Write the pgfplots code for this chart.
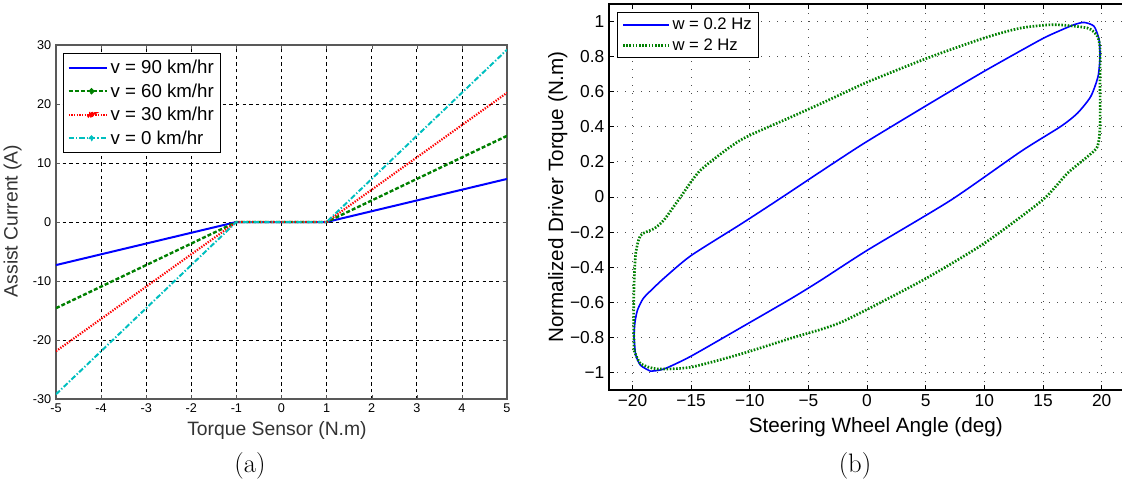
\documentclass[border=0pt]{standalone}
\usepackage{pgfplots}
\pgfplotsset{compat=1.18}
\usepackage{fontspec}
\newfontfamily\arial{Liberation Sans}
\definecolor{mgreen}{rgb}{0,0.5,0}
\definecolor{mcyan}{rgb}{0,0.75,0.75}
\definecolor{mblue}{rgb}{0,0,1}
\begin{document}
\begin{tikzpicture}
\useasboundingbox (0,0) rectangle (841.5pt,370.5pt);
% ---------------- panel (a)
\begin{axis}[
  at={(42pt,71.25pt)}, anchor=south west, scale only axis,
  width=338.25pt, height=265.5pt,
  xmin=-5, xmax=5, ymin=-30, ymax=30,
  xtick={-5,-4,-3,-2,-1,0,1,2,3,4,5}, ytick={-30,-20,-10,0,10,20,30},
  grid=major, major grid style={black, dash pattern=on 2.5pt off 2.5pt, line width=0.5pt},
  axis line style={black!65, line width=0.8pt},
  tick align=inside, major tick length=3pt, tick style={black!65},
  ticklabel style={font=\arial\fontsize{9.5}{10}\selectfont},
  /pgf/number format/assume math mode=true,
  xlabel={Torque Sensor (N.m)}, ylabel={Assist Current (A)},
  xlabel style={font=\arial\fontsize{14.5}{16}\selectfont, black!80, at={(axis description cs:0.49,-0.1045)}, anchor=base, inner sep=0pt},
  ylabel style={font=\arial\fontsize{14.5}{16}\selectfont, black!80, at={(axis description cs:-0.085,0.503)}, anchor=base, inner sep=0pt},
  legend style={at={(0.0155,0.978)}, anchor=north west, font=\arial\fontsize{14}{16}\selectfont, draw=black, line width=0.8pt, row sep=2pt, inner xsep=3pt, inner ysep=3pt},
  legend cell align=left,
]
\addplot[mblue, line width=1.5pt, legend image code/.code={\draw[mblue, line width=1.5pt] (0cm,0cm) -- (1cm,0cm);}] coordinates {(-5,-7.3) (-1,0) (1,0) (5,7.3)};
\addlegendentry{v = 90 km/hr}
\addplot[mgreen, line width=1.8pt, dash pattern=on 3pt off 1.5pt, legend image code/.code={\draw[mgreen, line width=1.8pt, dash pattern=on 3pt off 1.5pt] (0cm,0cm) -- (1cm,0cm); \fill[mgreen] (0.6cm,0cm) circle (1.3pt);}] coordinates {(-5,-14.6) (-1,0) (1,0) (5,14.6)};
\addlegendentry{v = 60 km/hr}
\addplot[red, line width=1.6pt, dash pattern=on 1pt off 1pt, legend image code/.code={\draw[red, line width=1.6pt, dash pattern=on 1pt off 1pt] (0cm,0cm) -- (1cm,0cm); \fill[red] (0.5cm,-1.6pt) -- (0.6cm+0.3pt,1.2pt) -- (0.7cm-0.3pt,1.2pt) -- cycle; \fill[red] (0.6cm,-1.8pt) -- (0.6cm-2pt,1.4pt) -- (0.6cm+2pt,1.4pt) -- cycle;}] coordinates {(-5,-21.9) (-1,0) (1,0) (5,21.9)};
\addlegendentry{v = 30 km/hr}
\addplot[mcyan, line width=1.5pt, dash pattern=on 4pt off 1.5pt on 1pt off 1.5pt, legend image code/.code={\draw[mcyan, line width=1.5pt, dash pattern=on 4pt off 1.5pt on 1pt off 1.5pt] (0cm,0cm) -- (1cm,0cm); \fill[mcyan] (0.6cm,0cm) circle (1.3pt);}] coordinates {(-5,-29.2) (-1,0) (1,0) (5,29.2)};
\addlegendentry{v = 0 km/hr}
\end{axis}
% ---------------- panel (b)
\begin{axis}[
  at={(456.75pt,78pt)}, anchor=south west, scale only axis,
  width=387.1pt, height=289.5pt,
  xmin=-22, xmax=22, ymin=-1.1, ymax=1.1,
  xtick={-20,-15,-10,-5,0,5,10,15,20},
  xticklabels={−20,−15,−10,−5,0,5,10,15,20},
  ytick={-1,-0.8,-0.6,-0.4,-0.2,0,0.2,0.4,0.6,0.8,1},
  yticklabels={−1,−0.8,−0.6,−0.4,−0.2,0,0.2,0.4,0.6,0.8,1},
  ytick pos=left,
  grid=major, major grid style={black!70, dash pattern=on 0.75pt off 5.25pt, line width=0.7pt},
  axis line style={black, line width=1.1pt},
  tick align=inside, major tick length=4pt, tick style={black, line width=0.6pt},
  ticklabel style={font=\arial\fontsize{13}{15}\selectfont},
  xlabel={Steering Wheel Angle (deg)}, ylabel={Normalized Driver Torque (N.m)},
  xlabel style={font=\arial\fontsize{15.5}{18}\selectfont, at={(axis description cs:0.517,-0.111)}, anchor=base, inner sep=0pt},
  ylabel style={font=\arial\fontsize{15.5}{18}\selectfont, at={(axis description cs:-0.089,0.5)}, anchor=base, inner sep=0pt},
  legend style={at={(0.0155,0.979)}, anchor=north west, font=\arial\fontsize{12.5}{14}\selectfont, draw=black, line width=1pt, row sep=1pt, inner xsep=3pt, inner ysep=2pt},
  legend cell align=left,
  legend image code/.code={\draw[#1] (0cm,0cm) -- (1.2cm,0cm);},
]
\addplot[mblue, line width=1.2pt, smooth, tension=0.4] coordinates {
(-18.46,-0.993) (-19.3,-0.96) (-19.72,-0.9) (-19.86,-0.80) (-19.8,-0.72) (-19.58,-0.646)
(-19.1,-0.58) (-18.46,-0.535) (-17.3,-0.462) (-15.03,-0.335) (-10.77,-0.155) (-7.78,-0.025)
(-3.95,0.145) (-0.26,0.306) (5.15,0.525) (9.97,0.716) (14.81,0.897) (16.5,0.95)
(17.65,0.982) (18.5,0.995) (19.35,0.973) (19.78,0.897) (19.86,0.80) (19.69,0.687)
(19.07,0.573) (17.94,0.478) (16.51,0.402) (13.1,0.259) (7.14,-0.018) (0.03,-0.303)
(-3.95,-0.475) (-6.5,-0.58) (-10.77,-0.745) (-15.03,-0.908) (-17.3,-0.98) (-18.46,-0.993)
};
\addlegendentry{w = 0.2 Hz}
\addplot[mgreen, line width=2pt, dash pattern=on 1.2pt off 1.2pt, smooth, tension=0.4] coordinates {
(-19.86,-0.875) (-19.3,-0.95) (-17.87,-0.98) (-15.03,-0.97) (-10.77,-0.895) (-6.5,-0.805)
(-3.95,-0.755) (-2.25,-0.715) (0.03,-0.64) (5.0,-0.465) (9.97,-0.265) (14.95,-0.018)
(17.08,0.135) (18.79,0.23) (19.64,0.287) (19.86,0.40) (19.86,0.65) (19.86,0.84)
(19.64,0.916) (18.79,0.963) (15.94,0.982) (13.1,0.963) (9.97,0.906) (5.15,0.792)
(0.03,0.655) (-2.24,0.585) (-3.95,0.532) (-6.5,0.455) (-10.77,0.325) (-14.18,0.154)
(-15.88,0.002) (-17.3,-0.13) (-18.15,-0.18) (-19.3,-0.218) (-19.72,-0.32) (-19.86,-0.49)
(-19.9,-0.68) (-19.86,-0.875)
};
\addlegendentry{w = 2 Hz}
\end{axis}
\node[font=\fontsize{20}{24}\selectfont] at (187.5pt,21pt) {(a)};
\node[font=\fontsize{20}{24}\selectfont] at (641.25pt,21pt) {(b)};
\end{tikzpicture}
\end{document}
